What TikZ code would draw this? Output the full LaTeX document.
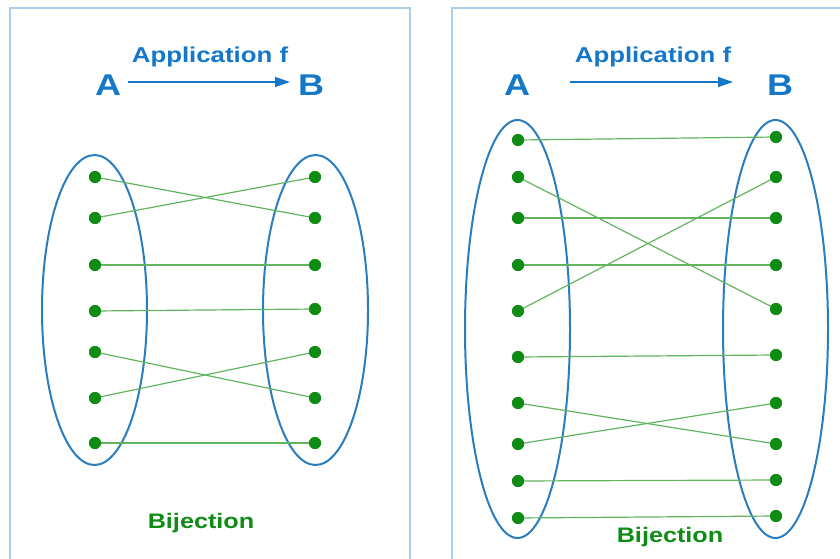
\documentclass[tikz,border=0pt]{standalone}
\usepackage{fontspec}
\setmainfont{Liberation Sans}
\usetikzlibrary{arrows.meta}
\definecolor{txtblue}{HTML}{1577C8}
\definecolor{ellblue}{HTML}{2A7DBE}
\definecolor{boxblue}{HTML}{A9CFEA}
\definecolor{dotgreen}{HTML}{0E8C14}
\definecolor{linegreen}{HTML}{62B45E}
\begin{document}
\begin{tikzpicture}[x=1pt,y=-1pt,
  panel/.style={draw=boxblue,line width=1.5pt},
  setell/.style={draw=ellblue,line width=2pt},
  pt/.style={circle,fill=dotgreen,inner sep=0pt,minimum size=12pt},
  link/.style={draw=linegreen,line width=1.2pt},
  bigletter/.style={text=txtblue,font=\bfseries\fontsize{30}{32}\selectfont,xscale=1.2,inner sep=0pt},
  title/.style={text=txtblue,font=\bfseries\fontsize{21.5}{24}\selectfont,xscale=1.2,inner sep=0pt},
  caption/.style={text=dotgreen,font=\bfseries\fontsize{21}{24}\selectfont,xscale=1.2,inner sep=0pt},
  maparrow/.style={draw=txtblue,line width=1.3pt,-{Triangle[length=15pt,width=10pt]}}]
\useasboundingbox (0,0) rectangle (840,559);
\clip (0,0) rectangle (840,559);
% panels
\draw[panel] (10,8) rectangle (410,575);
\draw[panel] (452,8) rectangle (860,575);

% ===== left panel =====
\node[bigletter] (A1) at (108,85) {A};
\node[bigletter] (B1) at (311,85) {B};
\node[title] (T1) at (210,57) {Application f};
\coordinate (a1s) at (128,82);
\coordinate (a1e) at (290,82);
\draw[maparrow] (a1s) -- (a1e);
\draw[setell] (94.5,310) ellipse [x radius=52.5,y radius=155];
\draw[setell] (315.5,310) ellipse [x radius=52.5,y radius=155];
\foreach \i/\y in {1/177,2/218,3/265,4/311,5/352,6/398,7/443}
  \node[pt] (la\i) at (95,\y) {};
\foreach \i/\y in {1/177,2/218,3/265,4/309,5/352,6/398,7/443}
  \node[pt] (lb\i) at (315,\y) {};
\draw[link] (la1.center) -- (lb2.center);
\draw[link] (la2.center) -- (lb1.center);
\draw[link] (la3.center) -- (lb3.center);
\draw[link] (la4.center) -- (lb4.center);
\draw[link] (la5.center) -- (lb6.center);
\draw[link] (la6.center) -- (lb5.center);
\draw[link] (la7.center) -- (lb7.center);
\foreach \i in {1,...,7} {\fill[dotgreen] (la\i) circle (6pt); \fill[dotgreen] (lb\i) circle (6pt);}
\node[caption] (C1) at (201,523) {Bijection};

% ===== right panel =====
\node[bigletter] (A2) at (517,85) {A};
\node[bigletter] (B2) at (780,85) {B};
\node[title] (T2) at (653,57) {Application f};
\coordinate (a2s) at (570,82);
\coordinate (a2e) at (733,82);
\draw[maparrow] (a2s) -- (a2e);
\draw[setell] (517.5,329) ellipse [x radius=52.5,y radius=209];
\draw[setell] (775.5,329) ellipse [x radius=52.5,y radius=209];
\foreach \i/\y in {1/140,2/177,3/218,4/265,5/311,6/357,7/403,8/444,9/481,10/518}
  \node[pt] (ra\i) at (518,\y) {};
\foreach \i/\y in {1/137,2/177,3/218,4/265,5/309,6/355,7/403,8/444,9/480,10/516}
  \node[pt] (rb\i) at (776,\y) {};
\draw[link] (ra1.center) -- (rb1.center);
\draw[link] (ra2.center) -- (rb5.center);
\draw[link] (ra3.center) -- (rb3.center);
\draw[link] (ra4.center) -- (rb4.center);
\draw[link] (ra5.center) -- (rb2.center);
\draw[link] (ra6.center) -- (rb6.center);
\draw[link] (ra7.center) -- (rb8.center);
\draw[link] (ra8.center) -- (rb7.center);
\draw[link] (ra9.center) -- (rb9.center);
\draw[link] (ra10.center) -- (rb10.center);
\foreach \i in {1,...,10} {\fill[dotgreen] (ra\i) circle (6pt); \fill[dotgreen] (rb\i) circle (6pt);}
\node[caption] (C2) at (670,537) {Bijection};
\end{tikzpicture}
\end{document}
